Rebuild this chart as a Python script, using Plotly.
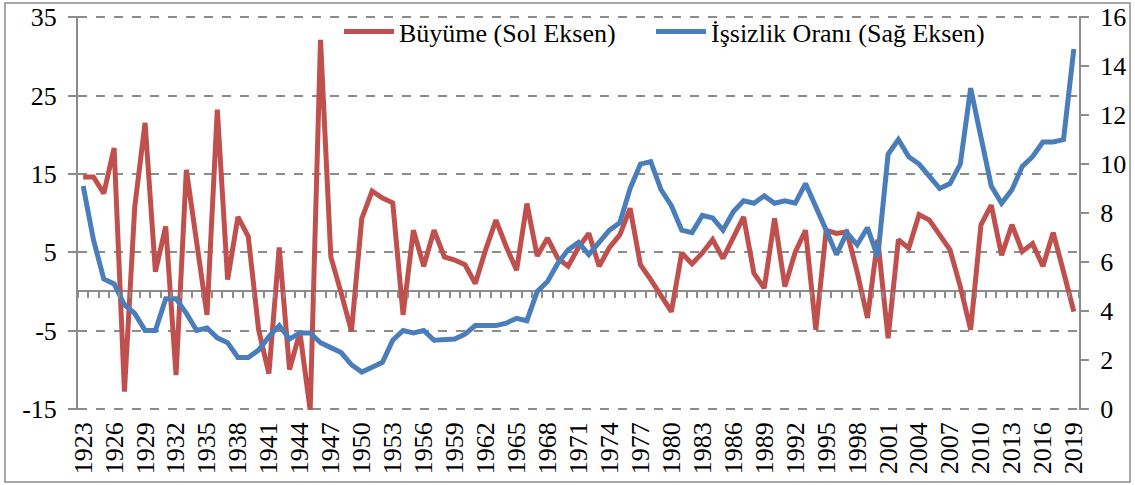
import plotly.graph_objects as go

years = list(range(1923, 2020))

growth = [
    14.6, 14.6, 12.5, 18.3, -12.8, 10.8, 21.5, 2.5, 8.3, -10.7,      # 1923-1932
    15.5, 6.1, -3.0, 23.2, 1.5, 9.5, 7.0, -4.9, -10.5, 5.6,          # 1933-1942
    -10.0, -5.2, -15.2, 32.1, 4.4, -0.2, -5.1, 9.3, 12.8, 11.9,      # 1943-1952
    11.3, -3.0, 7.8, 3.2, 7.8, 4.4, 4.0, 3.4, 1.0, 5.3,              # 1953-1962
    9.1, 5.7, 2.7, 11.2, 4.5, 6.8, 4.2, 3.2, 5.6, 7.4,               # 1963-1972
    3.2, 5.6, 7.2, 10.6, 3.4, 1.5, -0.7, -2.6, 4.9, 3.5,             # 1973-1982
    4.9, 6.6, 4.2, 6.8, 9.5, 2.3, 0.4, 9.3, 0.6, 5.0,                # 1983-1992
    7.8, -4.9, 7.8, 7.4, 7.6, 2.5, -3.4, 6.6, -6.0, 6.6,             # 1993-2002
    5.5, 9.8, 9.1, 7.2, 5.3, 0.6, -4.9, 8.5, 11.0, 4.6,              # 2003-2012
    8.5, 5.1, 6.1, 3.2, 7.5, 2.5, -2.6,                              # 2013-2019
]

unemployment = [
    9.1, 6.9, 5.3, 5.1, 4.25, 3.9, 3.2, 3.2, 4.5, 4.5,               # 1923-1932
    3.9, 3.2, 3.3, 2.9, 2.7, 2.1, 2.1, 2.4, 2.95, 3.4,               # 1933-1942
    2.85, 3.1, 3.1, 2.7, 2.5, 2.3, 1.8, 1.5, 1.7, 1.9,               # 1943-1952
    2.8, 3.2, 3.1, 3.2, 2.8, 2.85, 2.85, 3.05, 3.4, 3.4,             # 1953-1962
    3.4, 3.5, 3.7, 3.6, 4.8, 5.2, 5.95, 6.5, 6.8, 6.3,               # 1963-1972
    6.8, 7.3, 7.6, 9.0, 10.0, 10.1, 8.95, 8.3, 7.3, 7.2,             # 1973-1982
    7.9, 7.8, 7.3, 8.05, 8.5, 8.4, 8.7, 8.4, 8.5, 8.4,               # 1983-1992
    9.2, 8.3, 7.3, 6.3, 7.2, 6.7, 7.4, 6.2, 10.4, 11.0,              # 1993-2002
    10.3, 10.0, 9.5, 9.0, 9.2, 10.0, 13.1, 11.1, 9.1, 8.4,           # 2003-2012
    8.95, 9.9, 10.3, 10.9, 10.9, 11.0, 14.7,                         # 2013-2019
]

year_ticks = years[::3]
left_ticks = [-15, -5, 5, 15, 25, 35]
right_ticks = list(range(0, 17, 2))

series_names = ["Büyüme (Sol Eksen)", "İşsizlik Oranı (Sağ Eksen)"]
RED = "#C0504D"
BLUE = "#4A7EBB"
GRID = "#8C8C8C"
FONT = "Liberation Serif"

W, H = 1135, 485
ML, MR, MT, MB = 78, 56, 16, 75
pw, ph = W - ML - MR, H - MT - MB

# small padding so the gridlines at the range ends stay visible
lpad = 0.15
lr = [left_ticks[0] - lpad, left_ticks[-1] + lpad]
scale = (right_ticks[-1] - right_ticks[0]) / (left_ticks[-1] - left_ticks[0])
rr = [right_ticks[0] - lpad * scale, right_ticks[-1] + lpad * scale]
zero_pos = (0 - lr[0]) / (lr[1] - lr[0])

fig = go.Figure()
fig.add_trace(go.Scatter(x=years, y=growth, name=series_names[0], mode="lines",
                         line=dict(color=RED, width=5), xaxis="x", yaxis="y",
                         legend="legend"))
fig.add_trace(go.Scatter(x=years, y=unemployment, name=series_names[1], mode="lines",
                         line=dict(color=BLUE, width=5), xaxis="x2", yaxis="y2",
                         legend="legend2"))

xr = [years[0] - 0.5, years[-1] + 0.5]
boundaries = [y - 0.5 for y in years] + [years[-1] + 0.5]

tickfont = dict(family=FONT, size=26, color="black")
legfont = dict(family=FONT, size=26, color="black")
leg_y = 1.0 + 8 / ph

fig.update_layout(
    width=W, height=H, autosize=False,
    margin=dict(l=ML, r=MR, t=MT, b=MB, pad=0, autoexpand=False),
    paper_bgcolor="white", plot_bgcolor="white",
    font=dict(family=FONT, size=26, color="black"),
    showlegend=True,
    legend=dict(orientation="h", x=(339 - ML) / pw, xanchor="left",
                y=leg_y, yanchor="top", bgcolor="rgba(0,0,0,0)",
                font=legfont, itemwidth=50),
    legend2=dict(orientation="h", x=(651 - ML) / pw, xanchor="left",
                 y=leg_y, yanchor="top", bgcolor="rgba(0,0,0,0)",
                 font=legfont, itemwidth=50),
    xaxis=dict(range=xr, tickmode="array", tickvals=year_ticks,
               ticktext=[str(y) for y in year_ticks], tickangle=-90,
               showgrid=False, zeroline=False, showline=False, ticks="",
               ticklabelstandoff=6, automargin=False, tickfont=tickfont),
    xaxis2=dict(range=xr, overlaying="x", anchor="free", position=zero_pos,
                tickmode="array", tickvals=boundaries, ticks="outside",
                ticklen=6, tickwidth=2, tickcolor=GRID, automargin=False,
                showticklabels=False, showgrid=False, zeroline=False, showline=False),
    yaxis=dict(range=lr, tickmode="array", tickvals=left_ticks,
               ticktext=[str(v) for v in left_ticks],
               showgrid=True, gridcolor=GRID, gridwidth=1.5, griddash="dash",
               zeroline=True, zerolinecolor=GRID, zerolinewidth=2,
               showline=True, linecolor=GRID, linewidth=2,
               ticks="outside", ticklen=8, tickwidth=2, tickcolor=GRID,
               ticklabelstandoff=6, automargin=False, tickfont=tickfont),
    yaxis2=dict(range=rr, tickmode="array", tickvals=right_ticks,
                ticktext=[str(v) for v in right_ticks],
                overlaying="y", side="right", anchor="x2",
                showgrid=False, zeroline=False,
                showline=True, linecolor=GRID, linewidth=2,
                ticks="outside", ticklen=8, tickwidth=2, tickcolor=GRID,
                ticklabelstandoff=6, automargin=False, tickfont=tickfont),
    shapes=[dict(type="rect", xref="paper", yref="paper",
                 x0=(5 - ML) / pw, x1=(1130 - ML) / pw,
                 y0=-(482 - MT - ph) / ph, y1=1 + (MT - 3) / ph,
                 line=dict(color=GRID, width=1.5), layer="below")],
)

fig.write_html("out.html", config={"displayModeBar": False},
               post_script="document.body.style.margin='0px';")
